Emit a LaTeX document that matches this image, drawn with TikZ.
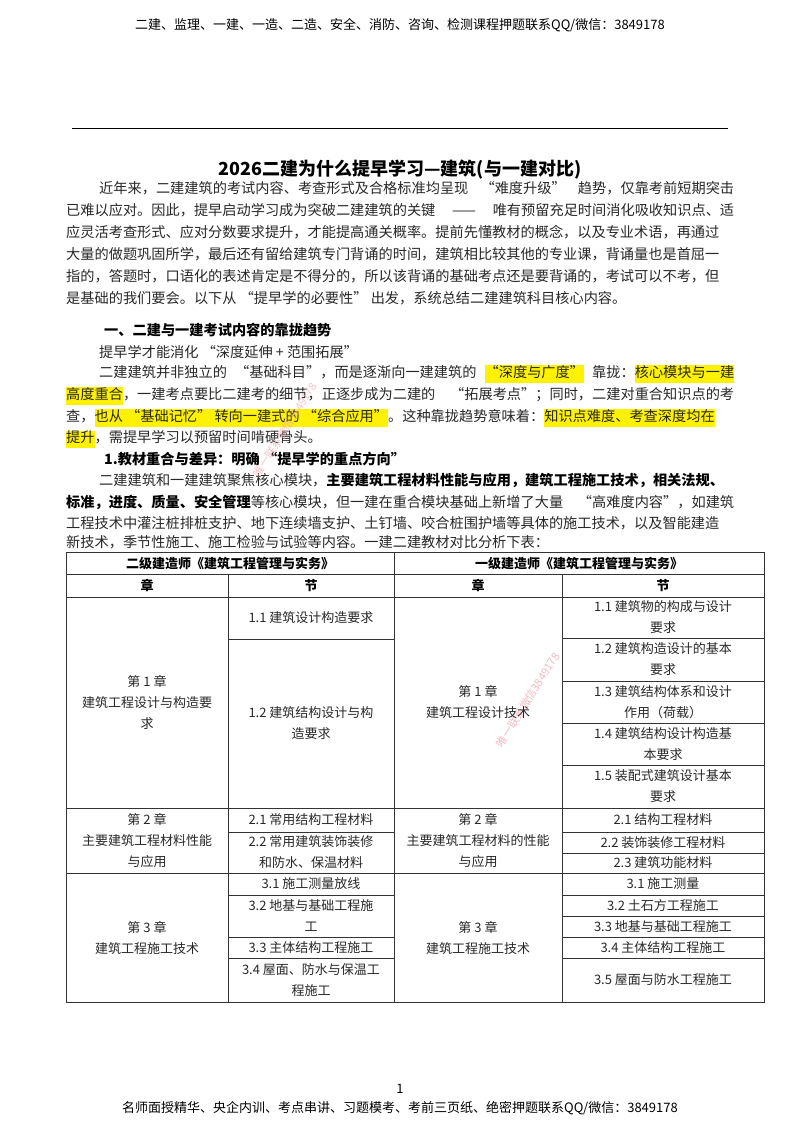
\documentclass[tikz,border=0pt]{standalone}
\usepackage{fontspec}
\setmainfont{Noto Sans CJK SC}
\XeTeXlinebreaklocale "zh"
\XeTeXlinebreakskip=0pt plus 3pt
\definecolor{bodyc}{RGB}{40,40,40}
\definecolor{wm}{RGB}{240,170,180}
\newcommand\hl[1]{{\setlength\fboxsep{0pt}\colorbox{yellow}{\strut #1}}}
\begin{document}
\begin{tikzpicture}[x=1pt,y=1pt,
  body/.style={anchor=west,inner sep=0pt,font=\fontsize{14.2}{17}\selectfont,text=bodyc},
  head/.style={anchor=west,inner sep=0pt,font=\fontsize{14.2}{17}\selectfont\bfseries},
  cell/.style={align=center,inner sep=1pt,font=\fontsize{13}{21}\selectfont,text=bodyc},
  hcell/.style={align=center,inner sep=1pt,font=\fontsize{13}{21}\selectfont\bfseries},
  grid/.style={line width=0.8pt,draw=black!80}]
\useasboundingbox (0,0) rectangle (800,-1132);
\fill[white] (0,0) rectangle (800,-1132);
\node[inner sep=0pt,font=\fontsize{13}{15}\selectfont] (hdr) at (400,-25) {二建、监理、一建、一造、二造、安全、消防、咨询、检测课程押题联系QQ/微信：3849178};
\coordinate (r1) at (72,-128); \coordinate (r2) at (728,-128);
\draw[line width=0.6pt] (r1) -- (r2);
\node[inner sep=0pt,font=\fontsize{13}{15}\selectfont] (pg) at (400,-1089) {1};
\node[inner sep=0pt,font=\fontsize{13}{15}\selectfont] (ftr) at (400,-1108) {名师面授精华、央企内训、考点串讲、习题模考、考前三页纸、绝密押题联系QQ/微信：3849178};
\node[inner sep=0pt,font=\fontsize{18}{20}\selectfont\bfseries] (title) at (400,-170) {2026二建为什么提早学习—建筑(与一建对比)};
\node[body] (p1) at (99,-188) {\hbox to 635pt{近年来，二建建筑的考试内容、考查形式及合格标准均呈现 “难度升级” 趋势，仅靠考前短期突击}};
\node[body] (p2) at (66,-210) {\hbox to 668pt{已难以应对。因此，提早启动学习成为突破二建建筑的关键 —— 唯有预留充足时间消化吸收知识点、适}};
\node[body] (p3) at (66,-232) {\hbox to 668pt{应灵活考查形式、应对分数要求提升，才能提高通关概率。提前先懂教材的概念，以及专业术语，再通过}};
\node[body] (p4) at (66,-254) {\hbox to 668pt{大量的做题巩固所学，最后还有留给建筑专门背诵的时间，建筑相比较其他的专业课，背诵量也是首屈一}};
\node[body] (p5) at (66,-276) {\hbox to 668pt{指的，答题时，口语化的表述肯定是不得分的，所以该背诵的基础考点还是要背诵的，考试可以不考，但}};
\node[body] (p6) at (66,-298) {是基础的我们要会。以下从 “提早学的必要性” 出发，系统总结二建建筑科目核心内容。};
\node[head] (s1) at (104,-330) {一、二建与一建考试内容的靠拢趋势};
\node[body] (q0) at (99,-352) {提早学才能消化 “深度延伸 + 范围拓展”};
\node[body] (q1) at (99,-374) {\hbox to 635pt{二建建筑并非独立的 “基础科目”，而是逐渐向一建建筑的 \hl{“深度与广度”} 靠拢：\hl{核心模块与一建}}};
\node[body] (q2) at (66,-396) {\hbox to 668pt{\hl{高度重合}，一建考点要比二建考的细节，正逐步成为二建的 “拓展考点”；同时，二建对重合知识点的考}};
\node[body] (q3) at (66,-418) {\hbox to 668pt{查，\hl{也从 “基础记忆” 转向一建式的 “综合应用”}。这种靠拢趋势意味着：\hl{知识点难度、考查深度均在}}};
\node[body] (q4) at (66,-439) {\hl{提升}，需提早学习以预留时间啃硬骨头。};
\node[head] (s2) at (104,-459) {1.教材重合与差异：明确 “提早学的重点方向”};
\node[body] (t1) at (99,-480) {\hbox to 635pt{二建建筑和一建建筑聚焦核心模块，\textbf{\color{black}主要建筑工程材料性能与应用，建筑工程施工技术，相关法规、}}};
\node[body] (t2) at (66,-502) {\hbox to 668pt{\textbf{\color{black}标准，进度、质量、安全管理}等核心模块，但一建在重合模块基础上新增了大量 “高难度内容”，如建筑}};
\node[body] (t3) at (66,-523) {\hbox to 668pt{工程技术中灌注桩排桩支护、地下连续墙支护、土钉墙、咬合桩围护墙等具体的施工技术，以及智能建造}};
\node[body] (t4) at (66,-542) {新技术，季节性施工、施工检验与试验等内容。一建二建教材对比分析下表：};
\node[rotate=58,text=wm,font=\fontsize{11}{12}\selectfont,opacity=0.7] (wm1) at (285,-430) {唯一联系微信3849178};
\node[rotate=58,text=wm,font=\fontsize{11}{12}\selectfont,opacity=0.8] (wm2) at (528,-700) {唯一联系微信3849178};
\draw[grid] (66,-552) rectangle (764,-1002);
\draw[grid] (66,-574) -- (764,-574);
\draw[grid] (66,-597) -- (764,-597);
\draw[grid] (66,-808) -- (764,-808);
\draw[grid] (66,-873) -- (764,-873);
\draw[grid] (394,-552) -- (394,-1002);
\draw[grid] (228,-574) -- (228,-1002);
\draw[grid] (562,-574) -- (562,-1002);
\foreach \y in {639,832,895,937,958} \draw[grid] (228,-\y) -- (394,-\y);
\foreach \y in {638,681,723,765,832,853,895,916,937,958} \draw[grid] (562,-\y) -- (764,-\y);
\node[hcell] (h1) at (230,-563) {二级建造师《建筑工程管理与实务》};
\node[hcell] (h2) at (579,-563) {一级建造师《建筑工程管理与实务》};
\node[hcell] (c1) at (147,-585.5) {章};
\node[hcell] (c2) at (311,-585.5) {节};
\node[hcell] (c3) at (478,-585.5) {章};
\node[hcell] (c4) at (663,-585.5) {节};
\node[cell] (a1) at (147,-702) {第 1 章\\建筑工程设计与构造要\\求};
\node[cell] (a11) at (311,-618) {1.1 建筑设计构造要求};
\node[cell] (a12) at (311,-723) {1.2 建筑结构设计与构\\造要求};
\node[cell] (b1) at (478,-702) {第 1 章\\建筑工程设计技术};
\node[cell] (b11) at (663,-617.5) {1.1 建筑物的构成与设计\\要求};
\node[cell] (b12) at (663,-659.5) {1.2 建筑构造设计的基本\\要求};
\node[cell] (b13) at (663,-702) {1.3 建筑结构体系和设计\\作用（荷载）};
\node[cell] (b14) at (663,-744) {1.4 建筑结构设计构造基\\本要求};
\node[cell] (b15) at (663,-786.5) {1.5 装配式建筑设计基本\\要求};
\node[cell] (a2) at (147,-840.5) {第 2 章\\主要建筑工程材料性能\\与应用};
\node[cell] (a21) at (311,-820) {2.1 常用结构工程材料};
\node[cell] (a22) at (311,-852.5) {2.2 常用建筑装饰装修\\和防水、保温材料};
\node[cell] (b2) at (478,-840.5) {第 2 章\\主要建筑工程材料的性能\\与应用};
\node[cell] (b21) at (663,-820) {2.1 结构工程材料};
\node[cell] (b22) at (663,-842.5) {2.2 装饰装修工程材料};
\node[cell] (b23) at (663,-863) {2.3 建筑功能材料};
\node[cell] (a3) at (147,-937.5) {第 3 章\\建筑工程施工技术};
\node[cell] (a31) at (311,-884) {3.1 施工测量放线};
\node[cell] (a32) at (311,-916) {3.2 地基与基础工程施\\工};
\node[cell] (a33) at (311,-947.5) {3.3 主体结构工程施工};
\node[cell] (a34) at (311,-980) {3.4 屋面、防水与保温工\\程施工};
\node[cell] (b3) at (478,-937.5) {第 3 章\\建筑工程施工技术};
\node[cell] (b31) at (663,-884) {3.1 施工测量};
\node[cell] (b32) at (663,-905.5) {3.2 土石方工程施工};
\node[cell] (b33) at (663,-926.5) {3.3 地基与基础工程施工};
\node[cell] (b34) at (663,-947.5) {3.4 主体结构工程施工};
\node[cell] (b35) at (663,-980) {3.5 屋面与防水工程施工};
\end{tikzpicture}
\end{document}
